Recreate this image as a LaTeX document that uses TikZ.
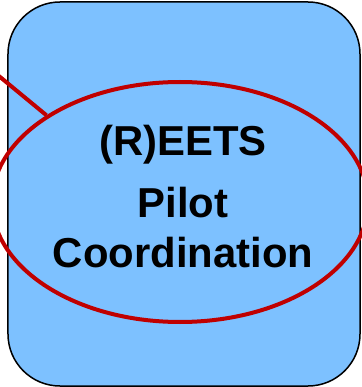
\documentclass[tikz,border=0pt]{standalone}
\usepackage{fontspec}
\setmainfont{Liberation Sans}
\usetikzlibrary{shapes.geometric}
\definecolor{boxblue}{RGB}{125,193,255}
\definecolor{ringred}{RGB}{192,0,0}

\begin{document}
\begin{tikzpicture}[x=1bp, y=1bp, every node/.style={font=\fontsize{42}{50}\selectfont\bfseries}]
    \useasboundingbox (0,0) rectangle (362,387);
    \clip (0,0) rectangle (362,387);

    \node[draw, fill=boxblue, rounded corners=52bp, line width=1.5bp, minimum width=352bp, minimum height=384bp, inner sep=0pt] at (184,193) (pilot) {};
    \node[ellipse, draw=ringred, line width=4bp, minimum width=376bp, minimum height=240bp, inner sep=0pt] at (180,185) (ring) {};

    \node[anchor=base] at (183,232) (t1) {(R)EETS};
    \node[anchor=base] at (183,170) (t2) {Pilot};
    \node[anchor=base] at (183,120) (t3) {Coordination};

    \coordinate (src) at (-6,315);
    \draw [ringred, line width=4bp] (src) -- (ring.147);
\end{tikzpicture}
\end{document}
